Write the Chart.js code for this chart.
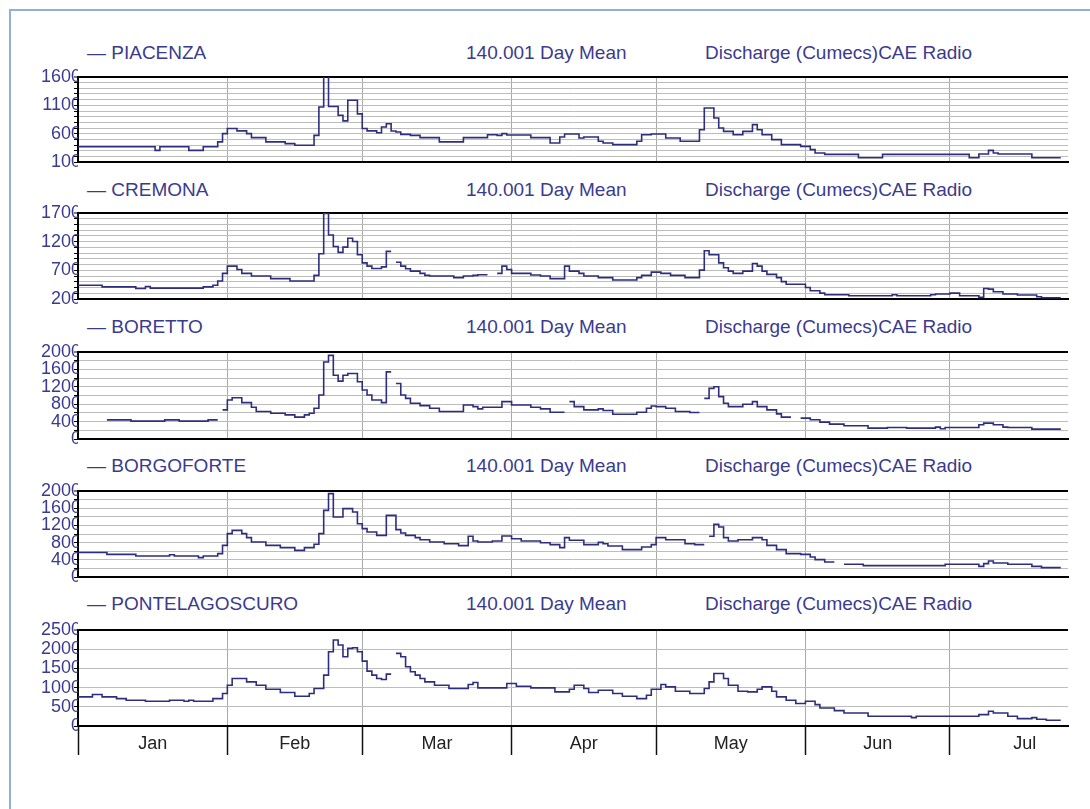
<!DOCTYPE html>
<html>
<head>
<meta charset="utf-8">
<script src="https://cdn.jsdelivr.net/npm/chart.js@4.4.1/dist/chart.umd.min.js"></script>
<style>
  html, body { margin: 0; padding: 0; background: #fff; }
  #page { position: relative; width: 1090px; height: 809px; overflow: hidden; background: #fff;
          font-family: "Liberation Sans", Arial, sans-serif; }
  #frame { position: absolute; left: 9px; top: 9px; width: 1200px; height: 900px;
           border-top: 2px solid #8db2da; border-left: 2px solid #8db2da; }
  .hdr { position: absolute; font-size: 19px; line-height: 22px; color: #3b3b8e; white-space: nowrap; }
  canvas { position: absolute; left: 0; }
</style>
</head>
<body>
<div id="page"><div id="frame"></div></div>
<script>
// Daily mean discharge (cumecs), day 0 = 1 Jan. Each value holds from its day until the next listed day.
const monthNames  = ['Jan', 'Feb', 'Mar', 'Apr', 'May', 'Jun', 'Jul'];
const monthStarts = [0, 31, 59, 90, 120, 151, 181, 212];
const dayEnd = 205.5;

const piacenzaDays = [0,16,17,23,26,29,30,31,33,35,36,39,43,45,49,50,51,52,54,55,56,58,59,60,62,63,64,65,66,67,69,71,75,80,85,87,88,89,94,98,100,101,104,105,108,109,111,116,117,119,122,125,129,130,132,133,134,136,138,140,141,142,144,146,150,152,153,155,162,167,185,187,189,190,191,198,204];
const piacenzaFlow = [370,305,370,305,370,455,600,690,650,600,530,455,425,395,570,1070,1650,1080,925,825,1190,950,690,650,617,717,776,647,630,588,570,530,455,530,582,570,600,576,530,435,541,594,523,541,465,435,406,465,582,594,523,465,670,1053,876,700,641,582,641,759,670,582,494,406,376,318,259,235,176,235,176,241,306,259,241,176,null];

const cremonaDays = [0,5,12,14,15,26,28,29,30,31,33,34,36,40,44,49,50,51,52,53,54,55,56,57,58,59,60,61,63,64,65,66,67,68,69,71,72,73,78,80,82,83,85,87,88,89,90,94,96,98,101,102,104,105,108,111,116,117,119,121,123,126,129,130,131,133,134,135,136,138,140,141,142,143,145,146,147,151,152,154,155,160,169,170,177,178,181,183,187,188,189,190,192,195,199,200,204];
const cremonaFlow = [440,412,383,418,389,412,440,515,647,773,715,647,600,555,515,612,990,1690,1316,1116,1013,1105,1259,1202,973,830,773,732,761,1030,null,841,773,727,687,647,612,600,572,600,612,624,null,647,773,715,647,618,600,555,773,687,647,600,572,532,572,612,669,647,612,572,704,1042,973,830,744,687,647,687,818,773,687,629,572,503,458,400,343,303,274,257,274,257,274,286,303,257,229,383,372,326,286,269,240,223,null];

const borettoDays = [0,6,11,18,21,27,29,30,31,32,34,36,37,40,43,45,47,48,49,50,51,52,53,54,55,56,58,59,60,61,63,64,65,66,67,68,69,71,73,75,80,82,83,84,88,90,94,96,98,101,102,103,105,108,109,111,116,118,119,120,122,124,127,129,130,131,132,133,134,135,138,140,141,143,145,146,148,150,152,154,156,159,164,168,172,178,179,180,187,188,190,192,193,198,204];
const borettoFlow = [null,440,410,440,410,440,null,669,897,950,836,730,631,593,555,502,555,593,707,1011,1771,1923,1467,1330,1467,1505,1315,1125,1011,897,836,1543,null,1277,1011,935,821,768,707,631,783,745,692,730,859,783,730,692,616,null,859,745,669,692,654,570,616,707,760,745,707,631,608,null,935,1163,1201,973,821,745,798,859,745,669,578,502,null,479,441,388,342,304,251,266,251,274,236,266,327,365,327,274,266,228,null];

const borgoforteDays = [0,6,12,19,20,25,26,29,30,31,32,34,35,36,39,42,45,47,49,50,51,52,53,55,57,58,59,60,62,64,66,67,68,70,71,73,76,79,81,82,83,86,88,90,92,96,98,100,101,102,105,108,109,110,113,117,119,120,122,126,128,130,131,132,133,134,135,137,140,142,143,145,147,150,152,153,155,157,159,163,180,187,188,189,190,193,198,200,204];
const borgoforteFlow = [570,527,488,519,488,450,488,543,736,1008,1085,1008,915,814,736,682,620,682,760,1008,1550,1938,1395,1589,1511,1240,1124,1046,969,1434,1101,1023,969,915,868,814,775,729,946,837,814,837,953,891,837,798,752,682,915,853,752,806,775,721,636,698,752,915,868,775,752,null,946,1225,1163,915,837,868,915,868,736,636,543,527,465,403,349,null,295,264,295,248,310,372,326,295,248,217,null];

const ponteDays = [0,3,5,8,10,14,19,22,23,24,28,30,31,32,35,37,39,42,45,48,49,51,52,53,54,55,56,57,58,59,60,61,62,63,64,65,66,67,68,69,70,71,72,74,77,81,82,83,89,91,94,99,102,103,105,106,108,111,113,116,118,119,121,122,124,127,130,131,132,134,135,137,139,141,142,144,145,147,149,151,153,154,157,159,164,173,174,187,189,190,193,195,198,199,201,204];
const ponteFlow = [758,819,758,714,671,645,671,645,671,645,714,845,1063,1237,1150,1063,958,871,775,845,976,1324,1934,2239,2108,1803,2021,2038,1934,1690,1428,1324,1237,1211,1350,null,1890,1803,1542,1411,1324,1237,1150,1063,976,1080,1132,993,1106,1037,993,888,958,1063,976,871,932,845,775,714,801,958,1080,1019,906,845,976,1150,1367,1237,1063,906,888,958,1019,906,758,671,584,645,557,470,401,340,253,218,253,296,383,340,253,192,218,174,148,null];

// Axis ranges: [min, max, grid step, labelled step]
const piacenzaAxis   = [100, 1600, 100, 500];
const cremonaAxis    = [200, 1700, 100, 500];
const borettoAxis    = [0, 2000, 200, 400];
const borgoforteAxis = [0, 2000, 200, 400];
const ponteAxis      = [0, 2500, 500, 500];

const stationNames = ['PIACENZA', 'CREMONA', 'BORETTO', 'BORGOFORTE', 'PONTELAGOSCURO'];
const seriesTitle  = '140.001 Day Mean';
const unitTitle    = 'Discharge (Cumecs)CAE Radio';

const FONT = '"Liberation Sans", Arial, sans-serif';
const LINE_COLOR = '#2e2e7e';
const TEXT_COLOR = '#3b3b8e';

Chart.defaults.font.family = FONT;

const panels = [
  { name: stationNames[0], days: piacenzaDays,   flow: piacenzaFlow,   axis: piacenzaAxis,   top: 77,  bottom: 162, titleY: 53 },
  { name: stationNames[1], days: cremonaDays,    flow: cremonaFlow,    axis: cremonaAxis,    top: 213, bottom: 299, titleY: 190 },
  { name: stationNames[2], days: borettoDays,    flow: borettoFlow,    axis: borettoAxis,    top: 352, bottom: 439, titleY: 327 },
  { name: stationNames[3], days: borgoforteDays, flow: borgoforteFlow, axis: borgoforteAxis, top: 491, bottom: 577, titleY: 466 },
  { name: stationNames[4], days: ponteDays,      flow: ponteFlow,      axis: ponteAxis,      top: 630, bottom: 726, titleY: 604, last: true }
];

// Turn (day, value) change points into explicit horizontal/vertical steps, breaking at nulls.
function stepPoints(days, flow) {
  const pts = [];
  for (let i = 0; i < days.length - 1; i++) {
    const v = flow[i];
    if (v === null) { pts.push({ x: days[i], y: null }); continue; }
    pts.push({ x: days[i], y: v });
    pts.push({ x: days[i + 1], y: v });
  }
  return pts;
}

const page = document.getElementById('page');

function addHeader(text, left, centerY) {
  const d = document.createElement('div');
  d.className = 'hdr';
  d.textContent = text;
  d.style.left = left + 'px';
  d.style.top = (centerY - 11) + 'px';
  page.appendChild(d);
}

const PAD_TOP = 12;
const AXIS_LEFT = 78;
const PLOT_RIGHT = 1068;
const CANVAS_W = 1090;

panels.forEach(p => {
  addHeader('\u2014 ' + p.name, 87, p.titleY);
  addHeader(seriesTitle, 466, p.titleY);
  addHeader(unitTitle, 705, p.titleY);

  const [yMin, yMax, yStep, yLabelStep] = p.axis;
  const plotH = p.bottom - p.top;
  const xH = p.last ? 45 : 0;
  const padB = p.last ? 2 : 12;
  const canvasH = PAD_TOP + plotH + xH + padB;

  const cv = document.createElement('canvas');
  cv.width = CANVAS_W;
  cv.height = canvasH;
  cv.style.width = CANVAS_W + 'px';
  cv.style.height = canvasH + 'px';
  cv.style.top = (p.top - PAD_TOP) + 'px';
  page.appendChild(cv);

  const yTicks = [];
  for (let v = yMin; v <= yMax + 1e-6; v += yStep) yTicks.push(v);

  const boundaries = monthStarts.filter(d => d < dayEnd);
  const mids = [];
  for (let i = 0; i < monthNames.length; i++) mids.push((monthStarts[i] + monthStarts[i + 1]) / 2);
  const xTicks = p.last ? boundaries.concat(mids).sort((a, b) => a - b) : boundaries.slice(1);
  const isBoundary = v => monthStarts.indexOf(v) >= 0;

  new Chart(cv, {
    type: 'line',
    data: {
      datasets: [{
        data: stepPoints(p.days, p.flow),
        borderColor: LINE_COLOR,
        borderWidth: 1.6,
        pointRadius: 0,
        tension: 0,
        spanGaps: false,
        fill: false
      }]
    },
    options: {
      responsive: false,
      animation: false,
      events: [],
      layout: { padding: { left: 0, right: CANVAS_W - PLOT_RIGHT, top: PAD_TOP, bottom: padB } },
      plugins: { legend: { display: false }, tooltip: { enabled: false } },
      scales: {
        x: {
          type: 'linear',
          min: 0,
          max: dayEnd,
          afterFit: s => { s.height = xH; },
          afterBuildTicks: s => { s.ticks = xTicks.map(v => ({ value: v })); },
          grid: {
            drawTicks: !!p.last,
            tickLength: 29,
            color: c => (c.tick && isBoundary(c.tick.value) && c.tick.value > 0) ? '#a9a9a9' : 'rgba(0,0,0,0)',
            tickColor: c => (c.tick && isBoundary(c.tick.value)) ? '#111' : 'rgba(0,0,0,0)',
            tickWidth: 1.5,
            lineWidth: 1
          },
          border: { display: true, color: '#000', width: 2 },
          ticks: {
            display: !!p.last,
            autoSkip: false,
            maxRotation: 0,
            padding: -22,
            color: '#222',
            font: { size: 18, family: FONT },
            callback: v => {
              const i = mids.indexOf(v);
              return i >= 0 ? monthNames[i] : '';
            }
          }
        },
        y: {
          min: yMin,
          max: yMax,
          afterFit: s => { s.width = AXIS_LEFT; },
          afterBuildTicks: s => { s.ticks = yTicks.map(v => ({ value: v })); },
          grid: {
            color: c => {
              if (!c.tick) return '#bdbdbd';
              if (c.tick.value === yMax) return '#000';
              if (c.tick.value === yMin) return 'rgba(0,0,0,0)';
              return '#bdbdbd';
            },
            lineWidth: c => (c.tick && c.tick.value === yMax) ? 2 : 1,
            tickLength: 4,
            tickColor: '#000',
            tickWidth: 1
          },
          border: { display: true, color: '#000', width: 2 },
          ticks: {
            autoSkip: false,
            padding: -7,
            color: TEXT_COLOR,
            font: { size: 18, family: FONT },
            callback: v => ((v - yMin) % yLabelStep === 0) ? String(v) : ''
          }
        }
      }
    }
  });
});
</script>
</body>
</html>
